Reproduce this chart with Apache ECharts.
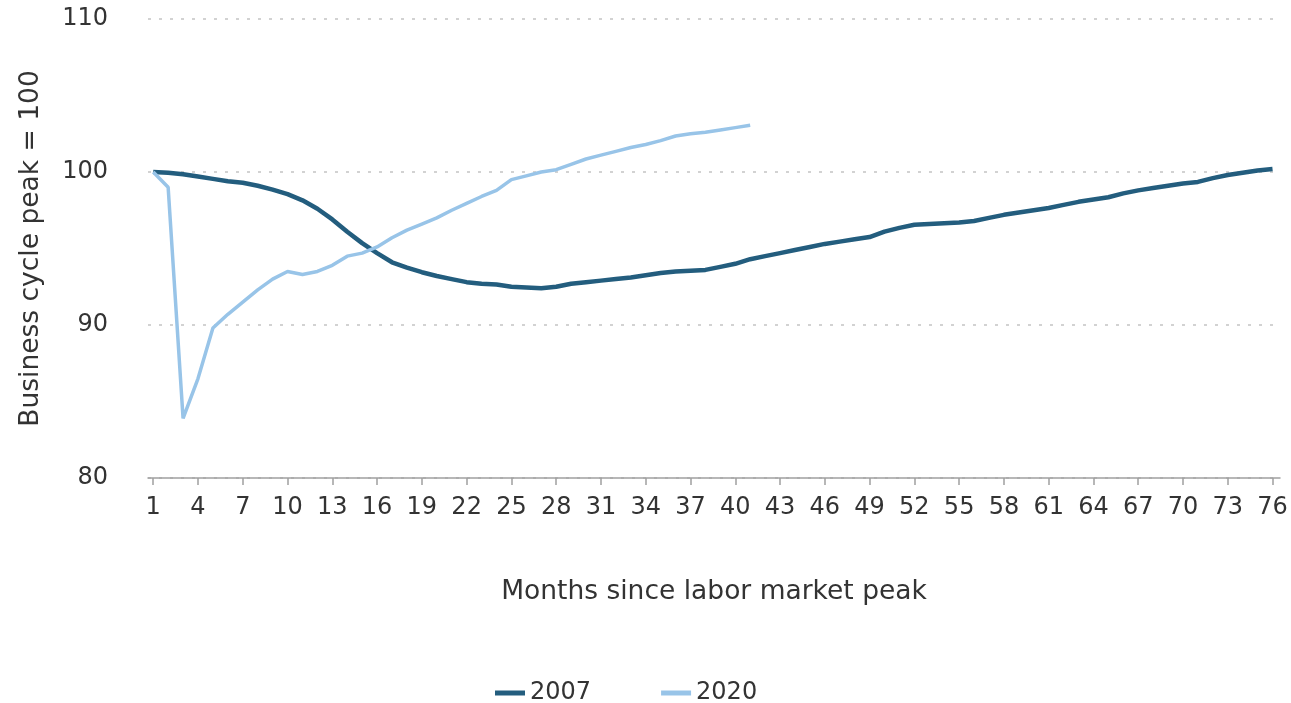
<!DOCTYPE html>
<html>
<head>
<meta charset="utf-8">
<script src="https://cdn.jsdelivr.net/npm/echarts@6/dist/echarts.min.js"></script>
<style>
html,body{margin:0;padding:0;background:#fff;}
#chart{width:1291px;height:703px;}
</style>
</head>
<body>
<div id="chart"></div>
<script>
var months = [1,2,3,4,5,6,7,8,9,10,11,12,13,14,15,16,17,18,19,20,21,22,23,24,25,26,27,28,29,30,31,32,33,34,35,36,37,38,39,40,41,42,43,44,45,46,47,48,49,50,51,52,53,54,55,56,57,58,59,60,61,62,63,64,65,66,67,68,69,70,71,72,73,74,75,76];
var xTickLabels = [1,4,7,10,13,16,19,22,25,28,31,34,37,40,43,46,49,52,55,58,61,64,67,70,73,76];
var yTickLabels = [80,90,100,110];
var series2007 = [100,99.95,99.85,99.7,99.55,99.4,99.3,99.1,98.85,98.55,98.15,97.6,96.9,96.1,95.35,94.7,94.1,93.75,93.45,93.2,93.0,92.8,92.7,92.65,92.5,92.45,92.4,92.5,92.7,92.8,92.9,93.0,93.1,93.25,93.4,93.5,93.55,93.6,93.8,94.0,94.3,94.5,94.7,94.9,95.1,95.3,95.45,95.6,95.75,96.1,96.35,96.55,96.6,96.65,96.7,96.8,97.0,97.2,97.35,97.5,97.65,97.85,98.05,98.2,98.35,98.6,98.8,98.95,99.1,99.25,99.35,99.6,99.8,99.95,100.1,100.2];
var series2020 = [100,99.0,83.9,86.5,89.8,90.7,91.5,92.3,93.0,93.5,93.3,93.5,93.9,94.5,94.7,95.1,95.7,96.2,96.6,97.0,97.5,97.95,98.4,98.8,99.5,99.75,100.0,100.15,100.5,100.85,101.1,101.35,101.6,101.8,102.05,102.35,102.5,102.6,102.75,102.9,103.05];
var seriesNames = ['2007','2020'];

function pairs(vals){ return vals.map(function(v,i){ return [months[i], v]; }); }

var FONT = 'DejaVu Sans';
var TXT = '#333333';
var chart = echarts.init(document.getElementById('chart'), null, {renderer:'canvas'});
chart.setOption({
  animation:false,
  backgroundColor:'#ffffff',
  textStyle:{fontFamily:FONT,color:TXT},
  grid:{left:148,right:11,top:19,bottom:225,containLabel:false,outerBoundsMode:'none'},
  legend:{
    data:[{name:seriesNames[0],itemStyle:{color:'#235d7e'}},{name:seriesNames[1],itemStyle:{color:'#98c4e8'}}],
    left:490, top:676,
    icon:'rect', itemWidth:30, itemHeight:5, itemGap:70,
    textStyle:{fontFamily:FONT,fontSize:24,color:TXT}
  },
  xAxis:{
    type:'value', min:0.65, max:76.5,
    name:'Months since labor market peak', nameLocation:'middle', nameGap:101,
    nameTextStyle:{fontFamily:FONT,fontSize:26.5,color:TXT},
    axisLine:{show:true,lineStyle:{color:'#a0a0a0',width:1.5}},
    axisTick:{show:true,length:7,customValues:xTickLabels,lineStyle:{color:'#a0a0a0',width:1.5}},
    axisLabel:{customValues:xTickLabels,margin:18,fontFamily:FONT,fontSize:24,color:TXT},
    splitLine:{show:false}
  },
  yAxis:{
    type:'value', min:yTickLabels[0], max:yTickLabels[yTickLabels.length-1], interval:10,
    name:'Business cycle peak = 100', nameLocation:'middle', nameGap:103,
    nameTextStyle:{fontFamily:FONT,fontSize:26.5,color:TXT},
    axisLine:{show:false}, axisTick:{show:false},
    axisLabel:{margin:40,fontFamily:FONT,fontSize:24,color:TXT},
    splitLine:{show:true,lineStyle:{color:'#d2d2d2',width:2,type:[3,8]}}
  },
  series:[
    {name:seriesNames[0],type:'line',data:pairs(series2007),showSymbol:false,symbol:'none',
     lineStyle:{color:'#235d7e',width:4.5},itemStyle:{color:'#235d7e'},z:2},
    {name:seriesNames[1],type:'line',data:pairs(series2020),showSymbol:false,symbol:'none',
     lineStyle:{color:'#98c4e8',width:3.5},itemStyle:{color:'#98c4e8'},z:3}
  ]
});
</script>
</body>
</html>
